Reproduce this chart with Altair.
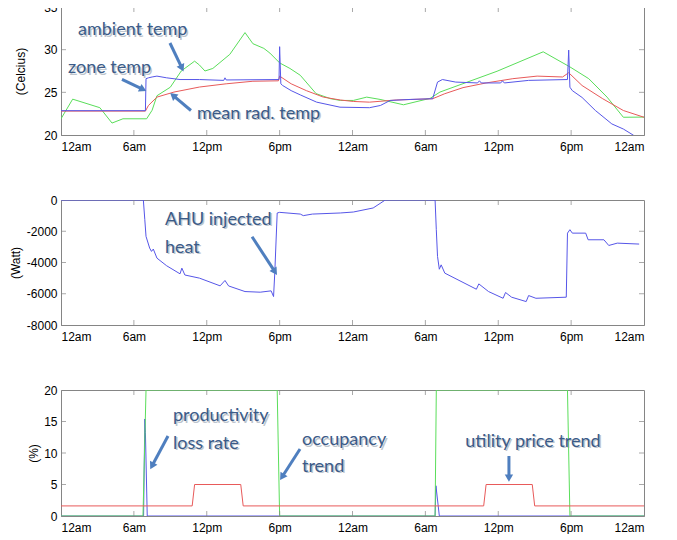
import math
import altair as alt
import pandas as pd

# ---------------- data ----------------
HOUR_TICKS = [0, 6, 12, 18, 24, 30, 36, 42, 48]
HOUR_LABELS = ["12am", "6am", "12pm", "6pm", "12am", "6am", "12pm", "6pm", "12am"]

# top panel: temperatures (Celcius)
amb_h = [0, 0.96, 3.2, 4.2, 5.1, 7.05, 7.5, 7.9, 9.0, 9.9, 11.0, 11.4, 11.85, 12.5, 13.9,
         15.15, 15.8, 16.7, 17.2, 18.0, 18.85, 19.7, 21.0, 22.2, 23.0, 24.07, 25.17, 26.27,
         28.2, 30.4, 31.2, 35.9, 39.7, 41.9, 43.45, 44.96, 46.3, 48]
amb_t = [21.9, 24.2, 23.2, 21.4, 21.9, 21.9, 22.9, 24.6, 25.6, 27.5, 28.65, 28.2, 27.5, 27.8, 29.45,
         32.0, 30.7, 30.15, 29.6, 28.45, 27.8, 27.0, 24.85, 24.25, 24.05, 24.05, 24.44, 24.17,
         23.54, 24.3, 25.03, 27.47, 29.75, 27.98, 26.6, 24.44, 22.08, 22.1]

zone_h = [0, 6.95, 7.0, 7.2, 7.5, 7.9, 8.7, 9.8, 11.4, 13.4, 13.5, 13.6, 17.95, 18.0, 18.1, 18.25,
          18.95, 19.7, 21.05, 22.97, 25.4, 26.3, 27.1, 28.8, 30.6, 31.0, 31.4, 32.5, 34.3, 34.45,
          34.6, 36.2, 36.35, 36.5, 38.5, 41.7, 41.8, 41.9, 42.1, 42.9, 44.0, 45.35, 46.3, 47.1, 47.5]
zone_t = [22.85, 22.85, 26.6, 26.7, 26.8, 26.9, 26.7, 26.5, 26.5, 26.4, 26.7, 26.45, 26.5, 30.35, 26.0, 25.8,
          25.2, 24.7, 23.85, 23.26, 23.2, 23.46, 24.05, 24.17, 24.25, 26.2, 26.5, 26.2, 26.1, 26.35,
          26.1, 26.1, 26.35, 26.1, 26.4, 26.5, 29.95, 25.6, 25.2, 24.4, 22.87, 21.3, 20.7, 20.0, 19.6]

mrt_h = [0, 6.95, 7.2, 7.9, 9.3, 11.4, 13.6, 15.8, 17.9, 18.0, 18.95, 20.2, 21.6, 23.0, 24.07,
         25.4, 27.6, 30.6, 31.6, 33.1, 35.0, 37.2, 39.2, 41.3, 41.8, 42.9, 44.6, 46.3, 48]
mrt_t = [22.8, 22.8, 23.46, 24.44, 25.03, 25.62, 26.0, 26.3, 26.35, 26.9, 26.0, 25.2, 24.44, 24.1, 23.93,
         23.85, 24.1, 24.25, 24.84, 25.55, 26.1, 26.6, 26.9, 26.8, 27.3, 25.8, 24.25, 22.87, 22.08]

# middle panel: AHU injected heat (Watt)
ahu_h = [0, 6.78, 6.9, 7.0, 7.3, 7.45, 7.6, 7.9, 8.7, 9.8, 9.95, 10.2, 11.4, 13.1, 13.5, 13.8,
         15.15, 16.4, 17.3, 17.5, 17.6, 17.8, 18.0, 19.7, 19.95, 20.7, 23.0, 24.07, 25.7, 26.7,
         30.8, 30.9, 31.0, 31.15, 31.3, 31.6, 34.2, 34.4, 35.2, 36.4, 36.6, 37.1, 38.3, 38.5, 39.1,
         41.6, 41.7, 41.9, 42.1, 43.2, 43.4, 44.7, 45.1, 45.8, 47.6]
ahu_w = [0, 0, -1260, -2330, -3080, -3290, -3140, -3720, -4210, -4725, -4360, -4800, -5000, -5495, -5150, -5500,
         -5860, -5900, -5815, -6180, -4680, -830, -790, -900, -1000, -900, -830, -770, -510, 0,
         0, -1900, -3610, -4430, -4150, -4680, -5710, -5370, -5860, -6290, -5920, -6220, -6500, -6115, -6290,
         -6220, -2120, -1900, -2120, -2120, -2545, -2545, -2910, -2760, -2820]

# bottom panel: rates (%)
occ_h = [0, 6.75, 7.0, 17.8, 18.0, 30.8, 30.9, 41.7, 41.9, 48]
occ_v = [0, 0, 20, 20, 0, 0, 20, 20, 0, 0]

price_h = [0, 10.8, 11.0, 14.8, 15.0, 34.8, 35.0, 38.8, 39.0, 48]
price_v = [1.6, 1.6, 5, 5, 1.6, 1.6, 5, 5, 1.6, 1.6]

prod_h = [0, 6.8, 6.9, 6.95, 7.1, 30.8, 30.87, 31.15, 48]
prod_v = [0, 0, 15.4, 13.3, 0, 0, 4.8, 0, 0]

# annotations (data coordinates)
top_text = ["ambient temp", "zone temp", "mean rad. temp"]
top_text_h = [1.4, 0.58, 11.2]
top_text_v = [32.3, 27.83, 22.5]
top_arrow = [(8.97, 30.78, 9.96, 27.83), (5.02, 26.53, 6.75, 25.35), (10.7, 22.87, 9.22, 24.64)]

mid_text = ["AHU injected", "heat"]
mid_text_h = [8.56, 8.56]
mid_text_v = [-1264, -3069]
mid_arrow = [(15.73, -2354, 17.62, -4599)]

bot_text = ["productivity", "loss rate", "occupancy", "trend"]
bot_text_h = [9.22, 9.22, 19.84, 19.84]
bot_text_v = [15.87, 11.43, 12.06, 7.78]
bot_arrow = [(8.81, 12.7, 7.49, 7.94), (19.68, 10.63, 18.2, 6.19), (36.88, 9.52, 36.88, 6.03)]
bot_center_text = ["utility price trend"]
bot_center_h = [38.86]
bot_center_v = [11.75]

# ---------------- styling ----------------
W = 583
AXIS_GRAY = "#858585"
FONT = "Liberation Sans Narrow, Liberation Sans, Arial, sans-serif"
ANN_FONT = "Lato"
ANN_COLOR = "#3b5b88"
ARROW_COLOR = "#4f7fbf"
GREEN = "#5ade5a"
BLUE = "#5656e8"
RED = "#e85a5a"

label_expr = "[" + ",".join("'%s'" % s for s in HOUR_LABELS) + "][round(datum.value/6)]"


def x_enc(field="h"):
    return alt.X(f"{field}:Q", scale=alt.Scale(domain=[0, 48], nice=False, zero=False),
                 axis=alt.Axis(values=HOUR_TICKS, labelExpr=label_expr, title=None, ticks=False,
                               grid=False, labelPadding=6, domainColor=AXIS_GRAY, labelFontSize=12,
                               labelFont=FONT, labelColor="black"))


def y_enc(dom, ticks, title, title_x, field="v"):
    return alt.Y(f"{field}:Q", scale=alt.Scale(domain=dom, nice=False, zero=False),
                 axis=alt.Axis(values=ticks, title=title, ticks=False, grid=False, labelPadding=4,
                               domainColor=AXIS_GRAY, labelFontSize=12, labelFont=FONT,
                               labelColor="black", labelExpr="'' + datum.value",
                               titleFont=FONT, titleFontSize=12, titleFontWeight="normal",
                               titleColor="black", titleX=title_x, titleBaseline="middle",
                               titleAngle=270))


def panel(series, dom, ticks, title, title_x, height, texts, arrows, center_texts=None):
    ye = lambda f="v": y_enc(dom, ticks, title, title_x, f)
    layers = []
    for hs, vs, col in series:
        df = pd.DataFrame({"h": hs, "v": vs})
        layers.append(alt.Chart(df).mark_line(color=col, strokeWidth=1, clip=True)
                      .encode(x=x_enc(), y=ye()))
    # inward ticks (matlab style)
    xt = pd.DataFrame({"h": HOUR_TICKS[1:-1]})
    for yy in (height - 2.5, 2.5):
        layers.append(alt.Chart(xt).mark_tick(orient="vertical", size=5, thickness=1, color=AXIS_GRAY)
                      .encode(x=x_enc(), y=alt.value(yy)))
    yt = pd.DataFrame({"v": ticks[1:-1]})
    for xx in (2.5, W - 2.5):
        layers.append(alt.Chart(yt).mark_tick(orient="horizontal", size=5, thickness=1, color=AXIS_GRAY)
                      .encode(y=ye(), x=alt.value(xx)))
    # arrows
    ymin, ymax = dom
    adf = pd.DataFrame(arrows, columns=["h", "v", "h2", "v2"])
    angs = []
    for h0, v0, h1, v1 in arrows:
        dx = (h1 - h0) * W / 48.0
        dy = -(v1 - v0) * height / (ymax - ymin)
        angs.append(math.degrees(math.atan2(dx, -dy)) % 360)
    adf["ang"] = angs
    layers.append(alt.Chart(adf).mark_rule(color=ARROW_COLOR, strokeWidth=3)
                  .encode(x=x_enc(), y=ye(), x2="h2:Q", y2="v2:Q"))
    layers.append(alt.Chart(adf).mark_point(shape="triangle-up", filled=True, size=70, opacity=1,
                                            color=ARROW_COLOR)
                  .encode(x=x_enc("h2"), y=ye("v2"), angle=alt.Angle("ang:Q", scale=None)))
    # text with soft shadow
    groups = [(texts, "left")]
    if center_texts:
        groups.append((center_texts, "center"))
    for (tx, th, tv), al in groups:
        tdf = pd.DataFrame({"h": th, "v": tv, "t": tx})
        layers.append(alt.Chart(tdf).mark_text(align=al, baseline="middle", font=ANN_FONT, fontSize=18,
                                               color="#8a96a6", opacity=0.55, dx=1.5, dy=1.5)
                      .encode(x=x_enc(), y=ye(), text="t:N"))
        layers.append(alt.Chart(tdf).mark_text(align=al, baseline="middle", font=ANN_FONT, fontSize=18,
                                               color=ANN_COLOR)
                      .encode(x=x_enc(), y=ye(), text="t:N"))
    return alt.layer(*layers).properties(width=W, height=height)


top = panel([(amb_h, amb_t, GREEN), (mrt_h, mrt_t, RED), (zone_h, zone_t, BLUE)],
            [20, 35], [20, 25, 30, 35], "(Celcius)", -41, 128,
            (top_text, top_text_h, top_text_v), top_arrow)

mid = panel([(ahu_h, ahu_w, BLUE)],
            [-8000, 0], [-8000, -6000, -4000, -2000, 0], "(Watt)", -46, 125,
            (mid_text, mid_text_h, mid_text_v), mid_arrow)

bot = panel([(prod_h, prod_v, BLUE), (occ_h, occ_v, GREEN), (price_h, price_v, RED)],
            [0, 20], [0, 5, 10, 15, 20], "(%)", -28, 126,
            (bot_text, bot_text_h, bot_text_v), bot_arrow,
            (bot_center_text, bot_center_h, bot_center_v))

chart = (alt.vconcat(top, mid, bot, spacing=40)
         .properties(padding={"left": 0, "top": -8, "right": 0, "bottom": 0}, background="white")
         .configure_view(stroke=AXIS_GRAY, strokeWidth=1))

chart.save("out.html", embed_options={"renderer": "svg", "actions": False})
